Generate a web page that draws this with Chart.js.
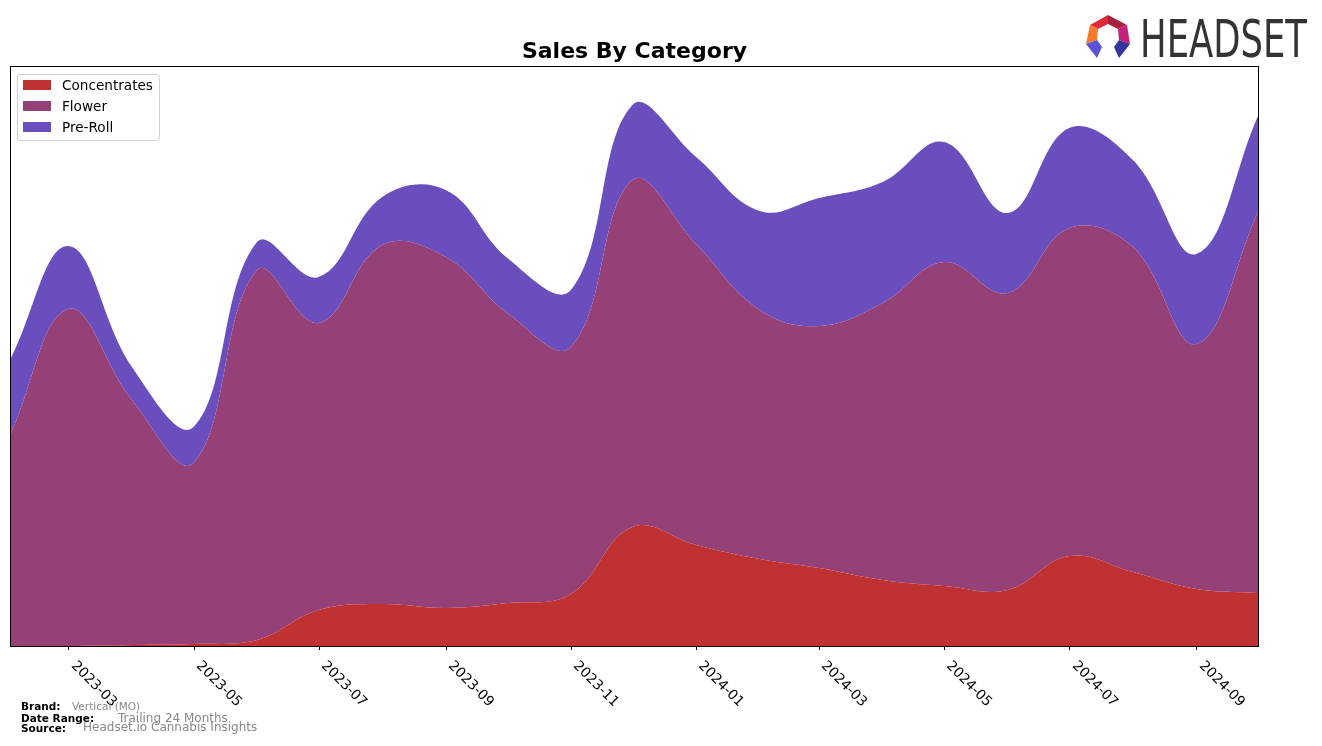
<!DOCTYPE html>
<html>
<head>
<meta charset="utf-8">
<script src="https://cdn.jsdelivr.net/npm/chart.js@4.4.1/dist/chart.umd.min.js"></script>
<style>
html,body{margin:0;padding:0;background:#fff;}
#wrap{position:relative;width:1322px;height:746px;overflow:hidden;font-family:"DejaVu Sans",sans-serif;background:#fff;}
#c{position:absolute;left:0;top:0;}
#title{position:absolute;left:11px;width:1247px;top:38px;text-align:center;font-weight:bold;font-size:22px;line-height:26px;color:#000;}
#legend{position:absolute;left:17px;top:74px;width:141px;height:65px;border:1px solid #d0d0d0;border-radius:3px;background:rgba(255,255,255,0.8);}
.li{position:absolute;left:0;height:16px;font-size:13.6px;line-height:16px;color:#000;white-space:nowrap;}
.sw{position:absolute;left:5px;top:3px;width:28px;height:10px;}
.lt{position:absolute;left:44px;top:0;}
.tick{position:absolute;font-size:13.9px;line-height:16px;white-space:nowrap;transform-origin:0 0;transform:rotate(45deg);color:#000;}
.f{position:absolute;white-space:nowrap;}
.fb{font-weight:bold;font-size:10.5px;line-height:12px;color:#000;}
.fg1{font-size:10.5px;line-height:12px;color:#888;}
.fg2{font-size:12px;line-height:14px;color:#888;}
</style>
</head>
<body>
<div id="wrap">
<canvas id="c" width="1322" height="746"></canvas>
<div id="title">Sales By Category</div>
<div id="legend"></div>
<div id="ticks"></div>
<svg style="position:absolute;left:1080px;top:10px" width="235" height="55" viewBox="1080 10 235 55">
  <polygon points="1090,25 1108,15 1108,24 1098,29" fill="#e02a3a"/>
  <polygon points="1108,15 1127,25 1118,29 1108,24" fill="#a8203c"/>
  <polygon points="1090,25 1098,29 1097,40 1086,44" fill="#f27a28"/>
  <polygon points="1127,25 1130,44 1119,40 1118,29" fill="#c4207e"/>
  <polygon points="1086,44 1097,40 1102,47 1097,58" fill="#5b52d6"/>
  <polygon points="1130,44 1119,40 1114,47 1119,58" fill="#35359e"/>
  <text x="1140" y="57" font-size="51" textLength="167" lengthAdjust="spacingAndGlyphs" fill="#333333" font-family="'Liberation Sans Narrow','DejaVu Sans Condensed','Liberation Sans',sans-serif">HEADSET</text>
</svg>
<div class="f fb" style="left:21px;top:700px;">Brand:</div>
<div class="f fg1" style="left:72px;top:700px;">Vertical (MO)</div>
<div class="f fb" style="left:21px;top:712px;">Date Range:</div>
<div class="f fg2" style="left:118px;top:711px;">Trailing 24 Months</div>
<div class="f fb" style="left:21px;top:722px;">Source:</div>
<div class="f fg2" style="left:83px;top:720px;">Headset.io Cannabis Insights</div>
</div>
<script>
// ---- data ----
const months = ['2023-02','2023-03','2023-04','2023-05','2023-06','2023-07','2023-08','2023-09','2023-10','2023-11','2023-12',
                '2024-01','2024-02','2024-03','2024-04','2024-05','2024-06','2024-07','2024-08','2024-09','2024-10'];
const concentrates = [0,0,1,2,6,36,42,38,43,52,119,101,87,78,66,60,56,90,74,57,53];
const flower = [213,337,245,181,370,287,359,351,290,247,347,301,249,242,277,324,297,328,325,245,381];
const preRoll = [75,63,33,36,28,46,48,67,55,57,75,87,99,128,121,120,80,100,87,90,96];
const tickLabels = ['2023-03','2023-05','2023-07','2023-09','2023-11','2024-01','2024-03','2024-05','2024-07','2024-09'];
const seriesNames = ['Concentrates','Flower','Pre-Roll'];
const seriesColors = ['#c03232','#954178','#6a4ebd'];

// ---- helpers ----
const DAY = 86400000;
function dayOf(m){ const [y,mo] = m.split('-').map(Number); return Date.UTC(y,mo-1,1)/DAY; }
const d0 = dayOf(months[0]);
const xs = months.map(m => dayOf(m) - d0);
const pts = arr => arr.map((v,i) => ({x: xs[i], y: v}));

// legend
const leg = document.getElementById('legend');
seriesNames.forEach((n,i) => {
  const row = document.createElement('div');
  row.className = 'li';
  row.style.top = (2 + i*21) + 'px';
  row.innerHTML = '<div class="sw" style="background:'+seriesColors[i]+'"></div><div class="lt">'+n+'</div>';
  leg.appendChild(row);
});

const framePlugin = {
  id: 'frame',
  afterDraw(chart){
    const {ctx, chartArea:a, scales} = chart;
    ctx.save();
    ctx.strokeStyle = '#000';
    ctx.lineWidth = 1;
    ctx.strokeRect(a.left - 0.5, a.top - 0.5, a.right - a.left + 1, a.bottom - a.top + 1);
    tickLabels.forEach(t => {
      const px = Math.round(scales.x.getPixelForValue(dayOf(t) - d0)) + 0.5;
      ctx.beginPath();
      ctx.moveTo(px, a.bottom);
      ctx.lineTo(px, a.bottom + 4);
      ctx.stroke();
    });
    ctx.restore();
    const tk = document.getElementById('ticks');
    if (!tk.childNodes.length) {
      tickLabels.forEach(t => {
        const px = scales.x.getPixelForValue(dayOf(t) - d0);
        const d = document.createElement('div');
        d.className = 'tick';
        d.textContent = t;
        d.style.left = (px + 11.3) + 'px';
        d.style.top = (a.bottom + 11) + 'px';
        tk.appendChild(d);
      });
    }
  }
};

new Chart(document.getElementById('c'), {
  type: 'line',
  data: {
    datasets: [
      {label: seriesNames[0], data: pts(concentrates), backgroundColor: seriesColors[0], fill: 'origin'},
      {label: seriesNames[1], data: pts(flower), backgroundColor: seriesColors[1], fill: '-1'},
      {label: seriesNames[2], data: pts(preRoll), backgroundColor: seriesColors[2], fill: '-1'}
    ]
  },
  options: {
    responsive: false,
    animation: false,
    devicePixelRatio: 1,
    layout: {padding: {left: 11, top: 67, right: 64, bottom: 100}},
    elements: {
      line: {tension: 0.4, borderWidth: 0, borderColor: 'rgba(0,0,0,0)'},
      point: {radius: 0, hoverRadius: 0}
    },
    scales: {
      x: {type: 'linear', display: false, min: xs[0], max: xs[xs.length-1]},
      y: {display: false, stacked: true, min: 0, max: 579}
    },
    plugins: {legend: {display: false}, title: {display: false}, tooltip: {enabled: false}}
  },
  plugins: [framePlugin]
});
</script>
</body>
</html>
